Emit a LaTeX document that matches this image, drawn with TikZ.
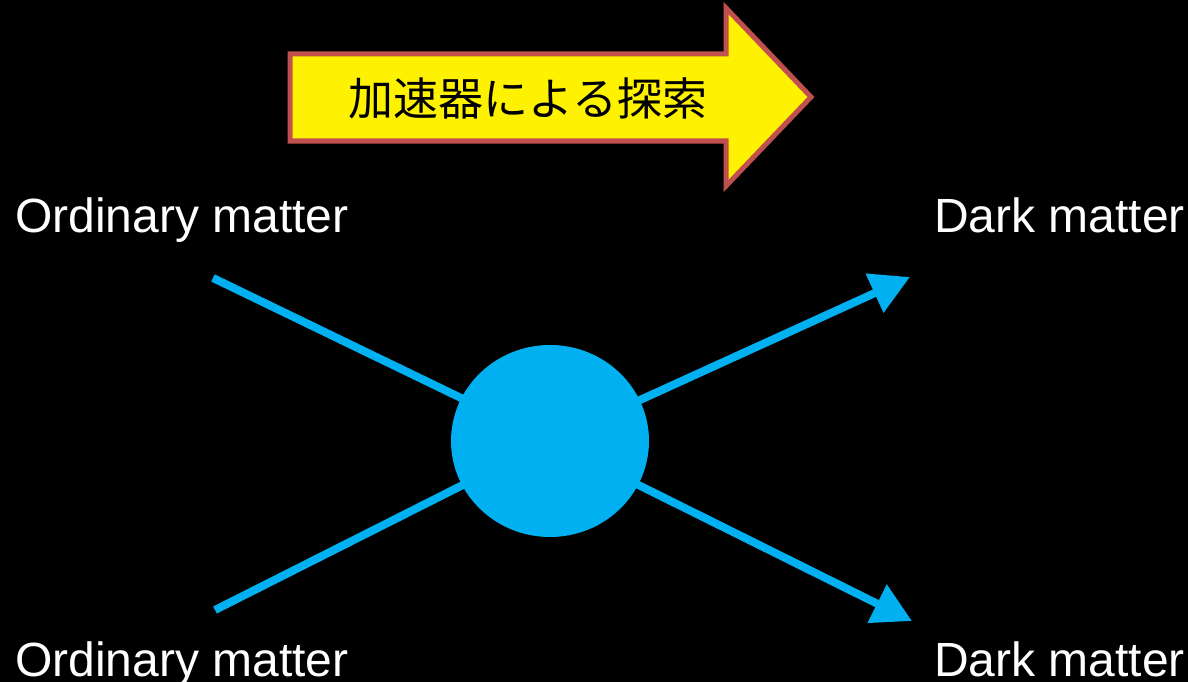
\documentclass[tikz,border=0pt]{standalone}
\usepackage{fontspec}
\setmainfont{Liberation Sans}
\newfontfamily\cjk{Noto Sans CJK JP}
\usetikzlibrary{arrows.meta,shapes.geometric}
\definecolor{cyanb}{HTML}{00B0F0}
\definecolor{arrowedge}{HTML}{C0504D}
\begin{document}
\begin{tikzpicture}[x=1pt,y=-1pt,
  lbl/.style={text=white,font=\fontsize{48}{58}\selectfont,inner sep=0pt,anchor=base west},
  conn/.style={draw=cyanb,line width=8pt},
  arr/.style={conn,-{Triangle[length=39pt,width=41pt]}}]
\fill[black] (0,0) rectangle (1188,682);
\useasboundingbox (0,0) rectangle (1188,682);
% big yellow arrow
\draw[fill=yellow,draw=arrowedge,line width=5pt,line join=miter]
  (290,54) -- (726,54) -- (726,8) -- (811,97) -- (726,186) -- (726,141) -- (290,141) -- cycle;
\node[font=\cjk\fontsize{45}{54}\selectfont,text=black,inner sep=0pt] (title) at (528,98) {加速器による探索};
% labels
\node[lbl] (o1) at (15,232) {Ordinary matter};
\node[lbl] (o2) at (15,676) {Ordinary matter};
\node[lbl] (d1) at (934,232) {Dark matter};
\node[lbl] (d2) at (934,676) {Dark matter};
% coordinates
\coordinate (c) at (550,441);
\coordinate (a1) at (213,278);
\coordinate (a2) at (215,610);
\coordinate (b1) at (910,277);
\coordinate (b2) at (912,621);
\draw[conn] (a1) -- (c);
\draw[conn] (a2) -- (c);
\draw[arr] (c) -- (b1);
\draw[arr] (c) -- (b2);
\node[ellipse,fill=cyanb,minimum width=198pt,minimum height=192pt,inner sep=0pt] (blob) at (c) {};
\end{tikzpicture}
\end{document}
